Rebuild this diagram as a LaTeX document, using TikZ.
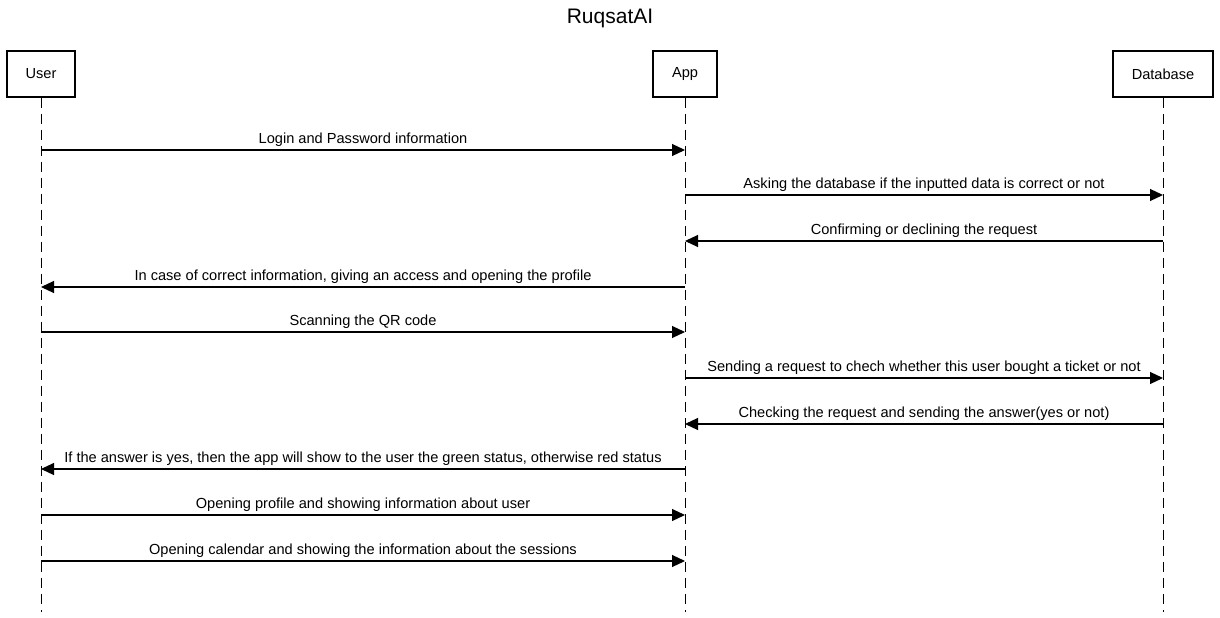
\documentclass[tikz,border=0pt]{standalone}
\usepackage{fontspec}
\setmainfont{Liberation Sans}
\usetikzlibrary{arrows.meta}
\tikzset{
    lifebox/.style={draw, line width=2.2pt, rectangle, minimum height=46pt, font=\fontsize{14.6}{17}\selectfont},
    lifeline/.style={line width=1pt, dash pattern=on 10pt off 6pt},
    msg/.style={line width=1.1pt, -{Triangle[length=13pt,width=12pt]}},
    lbl/.style={anchor=base, yshift=7pt, inner sep=0pt, font=\fontsize{14.6}{17}\selectfont}
}
\begin{document}
\begin{tikzpicture}[x=1pt, y=-1pt]
    \useasboundingbox (0,0) rectangle (1220,618);
    \node[font=\fontsize{21}{25}\selectfont] (title) at (610,18) {RuqsatAI};
    \node[lifebox, minimum width=68pt] (user) at (41,74) {User};
    \node[lifebox, minimum width=64pt] (app) at (685,74) {App};
    \node[lifebox, minimum width=100pt] (db) at (1163,74) {Database};
    \coordinate (user-end) at (41,612);
    \coordinate (app-end) at (685,612);
    \coordinate (db-end) at (1163,612);
    \draw[lifeline] (user) -- (user-end);
    \draw[lifeline] (app) -- (app-end);
    \draw[lifeline] (db) -- (db-end);
    % anchor points on the lifelines, one per message row
    \foreach \r/\y in {1/150,2/195,3/241,4/287,5/332,6/378,7/424,8/469,9/515,10/561}{
        \coordinate (u\r) at (41,\y);
        \coordinate (a\r) at (685,\y);
        \coordinate (d\r) at (1163,\y);
    }
    \draw[msg] (u1) -- node[lbl]{Login and Password information} (a1);
    \draw[msg] (a2) -- node[lbl]{Asking the database if the inputted data is correct or not} (d2);
    \draw[msg] (d3) -- node[lbl]{Confirming or declining the request} (a3);
    \draw[msg] (a4) -- node[lbl]{In case of correct information, giving an access and opening the profile} (u4);
    \draw[msg] (u5) -- node[lbl]{Scanning the QR code} (a5);
    \draw[msg] (a6) -- node[lbl]{Sending a request to chech whether this user bought a ticket or not} (d6);
    \draw[msg] (d7) -- node[lbl]{Checking the request and sending the answer(yes or not)} (a7);
    \draw[msg] (a8) -- node[lbl]{If the answer is yes, then the app will show to the user the green status, otherwise red status} (u8);
    \draw[msg] (u9) -- node[lbl]{Opening profile and showing information about user} (a9);
    \draw[msg] (u10) -- node[lbl]{Opening calendar and showing the information about the sessions} (a10);
\end{tikzpicture}
\end{document}
